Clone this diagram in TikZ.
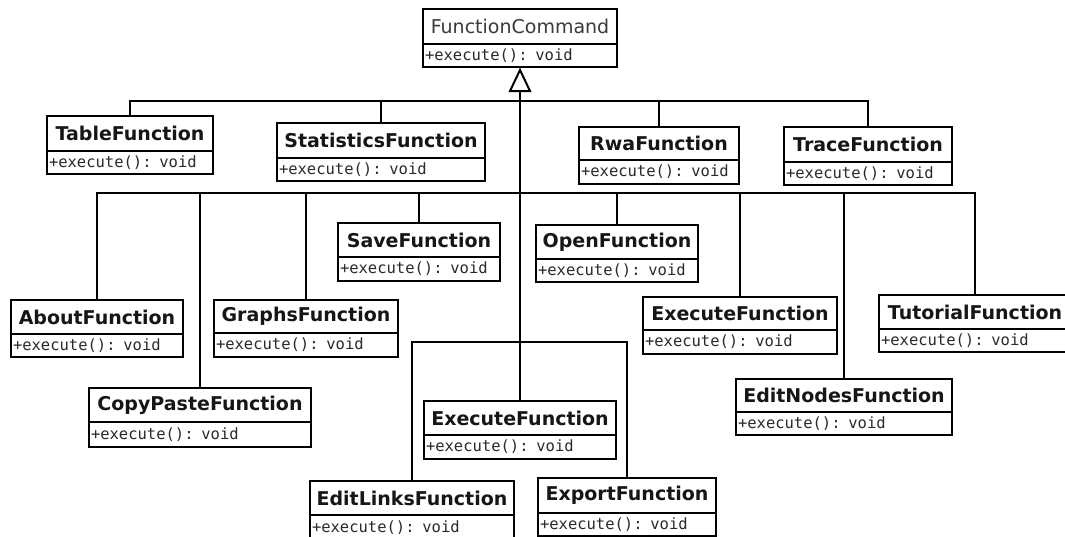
\documentclass[tikz,border=0pt]{standalone}
\usepackage{fontspec}
\newfontfamily\titlefont{DejaVu Sans}
\newfontfamily\codefont{DejaVu Sans Mono}
\usetikzlibrary{calc}

\definecolor{titleink}{HTML}{161616}
\definecolor{codeink}{HTML}{2A2A2A}
\definecolor{ifaceink}{HTML}{3A3A3A}

\tikzset{
  classhead/.style={draw=black, line width=2pt, fill=white, inner sep=0pt,
    anchor=north west, text=titleink,
    font=\titlefont\bfseries\fontsize{19}{22}\selectfont},
  classbody/.style={draw=black, line width=2pt, fill=white, inner xsep=2pt,
    inner ysep=0pt, anchor=north west, align=left, text=codeink,
    font=\codefont\fontsize{15.5}{18}\selectfont},
  link/.style={draw=black, line width=2pt},
  realize/.style={draw=black, line width=2pt, fill=white, line join=miter},
}

% #1 name, #2 left, #3 top, #4 right, #5 divider, #6 bottom, #7 class name
\newcommand\umlclass[7]{%
  \pgfmathsetmacro\umlW{#4-#2}%
  \pgfmathsetmacro\umlHH{#5-#3}%
  \pgfmathsetmacro\umlBH{#6-#5}%
  \pgfmathsetmacro\umlTW{#4-#2-4}%
  \node[classhead, minimum width=\umlW pt, minimum height=\umlHH pt] (#1) at (#2,#3) {#7};
  \node[classbody, text width=\umlTW pt, minimum height=\umlBH pt] (#1b) at (#2,#5) {+execute(): void};
}

\begin{document}
\begin{tikzpicture}[x=1pt, y=-1pt]
  \path[use as bounding box] (0,0) rectangle (1065,536);
  \fill[white] (0,0) rectangle (1065,536);
  \clip (0,0) rectangle (1065,536);

  % bus levels of the generalization tree
  \coordinate (busA) at (0,101);
  \coordinate (busB) at (0,193);
  \coordinate (busC) at (0,342);

  % classes
  \umlclass{fc}{422}{8}{616}{43}{66}{\mdseries\color{ifaceink}FunctionCommand}
  \umlclass{table}{46}{115}{212}{150}{173}{TableFunction}
  \umlclass{stats}{276}{122}{484}{157}{180}{StatisticsFunction}
  \umlclass{rwa}{578}{126}{738}{159}{183}{RwaFunction}
  \umlclass{trace}{783}{126}{951}{161}{184}{TraceFunction}
  \umlclass{save}{337}{222}{499}{256}{280}{SaveFunction}
  \umlclass{open}{535}{224}{697}{258}{281}{OpenFunction}
  \umlclass{about}{10}{299}{182}{333}{356}{AboutFunction}
  \umlclass{graphs}{213}{299}{397}{332}{356}{GraphsFunction}
  \umlclass{execr}{642}{296}{836}{329}{353}{ExecuteFunction}
  \umlclass{tutorial}{878}{294}{1070}{328}{351}{TutorialFunction}
  \umlclass{copy}{88}{387}{310}{421}{446}{CopyPasteFunction}
  \umlclass{editnodes}{735}{378}{951}{411}{434}{EditNodesFunction}
  \umlclass{execm}{423}{400}{615}{434}{458}{ExecuteFunction}
  \umlclass{editlinks}{309}{480}{513}{514}{540}{EditLinksFunction}
  \umlclass{export}{537}{477}{715}{512}{535}{ExportFunction}

  % generalization connectors
  \coordinate (apex) at ($(fcb.south)+(0,2)$);
  \coordinate (tribase) at ($(apex)+(0,21)$);

  \draw[link] (tribase) -- (tribase |- execm.north);

  \draw[link] (table.north) |- (trace.north |- busA) -- (trace.north);
  \draw[link] (stats.north) -- (stats.north |- busA);
  \draw[link] (rwa.north) -- (rwa.north |- busA);

  \draw[link] (about.north) |- (tutorial.north |- busB) -- (tutorial.north);
  \draw[link] (copy.north) -- (copy.north |- busB);
  \draw[link] (graphs.north) -- (graphs.north |- busB);
  \draw[link] (save.north) -- (save.north |- busB);
  \draw[link] (open.north) -- (open.north |- busB);
  \draw[link] (execr.north) -- (execr.north |- busB);
  \draw[link] (editnodes.north) -- (editnodes.north |- busB);

  \draw[link] (editlinks.north) |- (export.north |- busC) -- (export.north);

  % hollow generalization arrowhead under FunctionCommand
  \draw[realize] (apex) -- ($(apex)+(-10,21)$) -- ($(apex)+(10,21)$) -- cycle;
\end{tikzpicture}
\end{document}
